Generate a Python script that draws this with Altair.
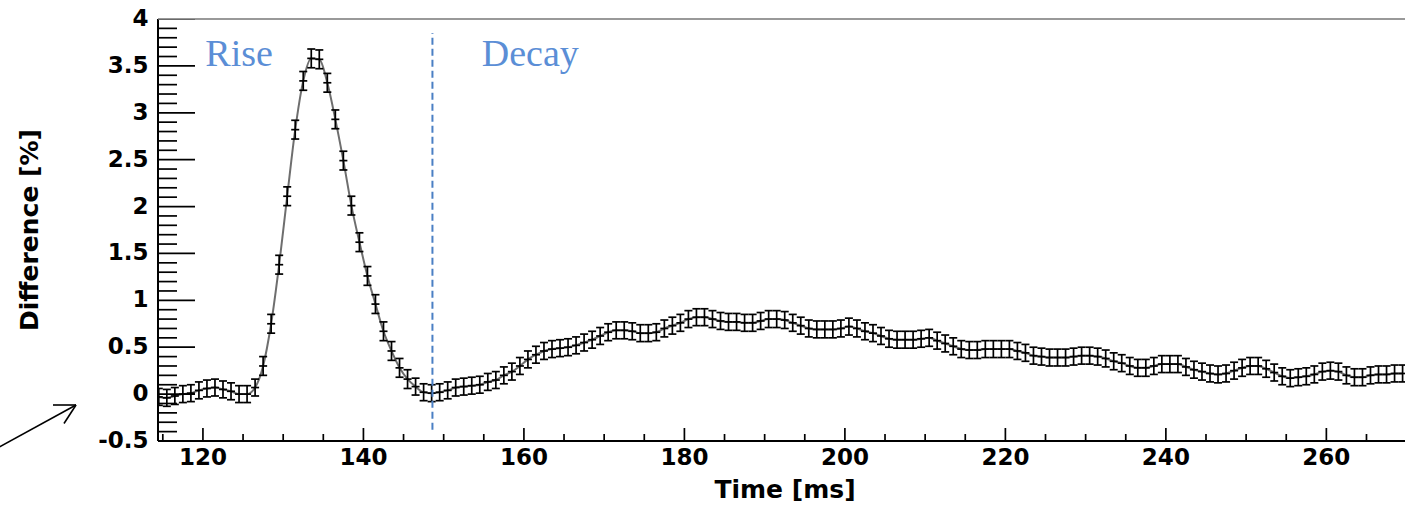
import altair as alt
import pandas as pd

# ---- data (1 ms bins, centres at n + 0.5) ----
T_FIRST = 114.5
DIFF = [
    -0.03, -0.04, -0.02, 0.00, 0.01, 0.04, 0.06, 0.07, 0.05, 0.03,   # 114.5-123.5
    0.00, 0.00, 0.07, 0.30, 0.75, 1.38, 2.11, 2.82, 3.34, 3.58,      # 124.5-133.5
    3.57, 3.32, 2.93, 2.49, 2.01, 1.62, 1.26, 0.96, 0.67, 0.46,      # 134.5-143.5
    0.28, 0.16, 0.08, 0.02, 0.01, 0.02, 0.04, 0.07, 0.08, 0.09,      # 144.5-153.5
    0.10, 0.13, 0.15, 0.20, 0.24, 0.30, 0.37, 0.42, 0.46, 0.48,      # 154.5-163.5
    0.49, 0.50, 0.52, 0.55, 0.58, 0.62, 0.66, 0.68, 0.68, 0.67,      # 164.5-173.5
    0.65, 0.65, 0.66, 0.70, 0.73, 0.76, 0.80, 0.82, 0.82, 0.80,      # 174.5-183.5
    0.78, 0.77, 0.77, 0.76, 0.76, 0.78, 0.80, 0.80, 0.79, 0.76,      # 184.5-193.5
    0.73, 0.70, 0.69, 0.69, 0.69, 0.70, 0.72, 0.70, 0.67, 0.65,      # 194.5-203.5
    0.62, 0.59, 0.58, 0.58, 0.58, 0.59, 0.60, 0.57, 0.54, 0.51,      # 204.5-213.5
    0.48, 0.47, 0.47, 0.48, 0.48, 0.48, 0.48, 0.46, 0.44, 0.41,      # 214.5-223.5
    0.40, 0.39, 0.39, 0.39, 0.40, 0.41, 0.41, 0.40, 0.38, 0.35,      # 224.5-233.5
    0.33, 0.30, 0.28, 0.28, 0.30, 0.32, 0.32, 0.32, 0.29, 0.26,      # 234.5-243.5
    0.24, 0.22, 0.21, 0.22, 0.25, 0.28, 0.30, 0.30, 0.27, 0.23,      # 244.5-253.5
    0.19, 0.17, 0.18, 0.19, 0.21, 0.24, 0.25, 0.24, 0.20, 0.18,      # 254.5-263.5
    0.18, 0.20, 0.21, 0.21, 0.22, 0.22,                              # 264.5-269.5
]
ERR = [
    0.09, 0.09, 0.09, 0.09, 0.09, 0.09, 0.09, 0.09, 0.09, 0.09,
    0.09, 0.09, 0.09, 0.10, 0.10, 0.10, 0.10, 0.10, 0.10, 0.10,
    0.10, 0.10, 0.10, 0.10, 0.10, 0.10, 0.10, 0.10, 0.10, 0.10,
    0.10, 0.10, 0.09, 0.09, 0.09, 0.09, 0.09, 0.09, 0.09, 0.09,
    0.09, 0.09, 0.09, 0.09, 0.09, 0.09, 0.09, 0.09, 0.09, 0.09,
    0.09, 0.09, 0.09, 0.09, 0.09, 0.09, 0.09, 0.09, 0.09, 0.09,
    0.09, 0.09, 0.09, 0.09, 0.09, 0.09, 0.09, 0.09, 0.09, 0.09,
    0.09, 0.09, 0.09, 0.09, 0.09, 0.09, 0.09, 0.09, 0.09, 0.09,
    0.09, 0.09, 0.09, 0.09, 0.09, 0.09, 0.09, 0.09, 0.09, 0.09,
    0.09, 0.09, 0.09, 0.09, 0.09, 0.09, 0.09, 0.09, 0.09, 0.09,
    0.09, 0.09, 0.09, 0.09, 0.09, 0.09, 0.09, 0.09, 0.09, 0.09,
    0.09, 0.09, 0.09, 0.09, 0.09, 0.09, 0.09, 0.09, 0.09, 0.09,
    0.09, 0.09, 0.09, 0.09, 0.09, 0.09, 0.09, 0.09, 0.09, 0.09,
    0.09, 0.09, 0.09, 0.09, 0.09, 0.09, 0.09, 0.09, 0.09, 0.09,
    0.09, 0.09, 0.09, 0.09, 0.09, 0.09, 0.09, 0.09, 0.09, 0.09,
    0.09, 0.09, 0.09, 0.09, 0.09, 0.09,
]
TIME = [T_FIRST + i for i in range(len(DIFF))]
BIN_HALF = 0.5

X_DOMAIN = [114.4, 269.8]
Y_DOMAIN = [-0.5, 4.0]
X_TICKS = [120, 140, 160, 180, 200, 220, 240, 260]
X_TICK_LABELS = ["120", "140", "160", "180", "200", "220", "240", "260"]
X_MINOR = [115, 125, 130, 135, 145, 150, 155, 165, 170, 175, 185, 190, 195,
           205, 210, 215, 225, 230, 235, 245, 250, 255, 265]
Y_TICKS = [-0.5, 0, 0.5, 1, 1.5, 2, 2.5, 3, 3.5, 4]
Y_TICK_LABELS = ["-0.5", "0", "0.5", "1", "1.5", "2", "2.5", "3", "3.5", "4"]
Y_MINOR = [-0.4, -0.3, -0.2, -0.1, 0.1, 0.2, 0.3, 0.4, 0.6, 0.7, 0.8, 0.9,
           1.1, 1.2, 1.3, 1.4, 1.6, 1.7, 1.8, 1.9, 2.1, 2.2, 2.3, 2.4,
           2.6, 2.7, 2.8, 2.9, 3.1, 3.2, 3.3, 3.4, 3.6, 3.7, 3.8, 3.9]
X_TITLE = "Time [ms]"
Y_TITLE = "Difference [%]"

SPLIT_T = 148.6
SPLIT_Y = [-0.38, 3.85]
LABELS = ["Rise", "Decay"]
LABEL_T = [120.3, 154.75]
LABEL_V = [3.50, 3.50]

W, H = 1247, 422
BLUE_TEXT = "#5b8ed6"
BLUE_LINE = "#4a7fc4"
AX_FONT = "DejaVu Sans"

# inward tick lengths (pixels) converted to data units
PX_PER_MS = W / (X_DOMAIN[1] - X_DOMAIN[0])
PX_PER_UNIT = H / (Y_DOMAIN[1] - Y_DOMAIN[0])
YT_MAJ = 37 / PX_PER_MS
YT_MIN = 19 / PX_PER_MS
XT_MAJ = 13 / PX_PER_UNIT
XT_MIN = 7 / PX_PER_UNIT

pts = pd.DataFrame({"t": TIME, "v": DIFF, "e": ERR})
lo = pts["v"] - pts["e"]
hi = pts["v"] + pts["e"]
tl = pts["t"] - BIN_HALF
tr = pts["t"] + BIN_HALF

# all black line segments (error bars, caps and inward axis ticks) in one table
segments = pd.concat([
    pd.DataFrame({"x1": pts["t"], "x2": pts["t"], "y1": lo, "y2": hi}),
    pd.DataFrame({"x1": tl, "x2": tr, "y1": pts["v"], "y2": pts["v"]}),
    pd.DataFrame({"x1": tl, "x2": tr, "y1": lo, "y2": lo}),
    pd.DataFrame({"x1": tl, "x2": tr, "y1": hi, "y2": hi}),
    pd.DataFrame({"x1": X_DOMAIN[0], "x2": X_DOMAIN[0] + YT_MAJ, "y1": Y_TICKS, "y2": Y_TICKS}),
    pd.DataFrame({"x1": X_DOMAIN[0], "x2": X_DOMAIN[0] + YT_MIN, "y1": Y_MINOR, "y2": Y_MINOR}),
    pd.DataFrame({"x1": X_TICKS, "x2": X_TICKS, "y1": Y_DOMAIN[0], "y2": Y_DOMAIN[0] + XT_MAJ}),
    pd.DataFrame({"x1": X_MINOR, "x2": X_MINOR, "y1": Y_DOMAIN[0], "y2": Y_DOMAIN[0] + XT_MIN}),
], ignore_index=True).astype(float)

xs = alt.Scale(domain=X_DOMAIN, nice=False, zero=False)
ys = alt.Scale(domain=Y_DOMAIN, nice=False, zero=False)


def X(field):
    return alt.X(field, scale=xs, axis=None)


def Y(field):
    return alt.Y(field, scale=ys, axis=None)


smooth = alt.Chart(pts).mark_line(interpolate="monotone", color="#555555",
                                  strokeWidth=2, opacity=0.85, clip=True).encode(
    x=X("t:Q"), y=Y("v:Q"))
segs = alt.Chart(segments).mark_rule(color="black", strokeWidth=1.7, clip=True).encode(
    x=X("x1:Q"), x2="x2:Q", y=Y("y1:Q"), y2="y2:Q")

# ---- frame ----
one = pd.DataFrame({"a": [0]})
left_line = alt.Chart(one).mark_rule(color="black", strokeWidth=2).encode(
    x=alt.value(0), y=alt.value(0), y2=alt.value(H))
bottom_line = alt.Chart(one).mark_rule(color="black", strokeWidth=2).encode(
    x=alt.value(0), x2=alt.value(W), y=alt.value(H))
top_line = alt.Chart(one).mark_rule(color="#777777", strokeWidth=1.5).encode(
    x=alt.value(0), x2=alt.value(W), y=alt.value(0))

# ---- tick labels and titles ----
ylab = alt.Chart(pd.DataFrame({"ty": Y_TICKS, "s": Y_TICK_LABELS})).mark_text(
    font=AX_FONT, fontWeight="bold", fontSize=23, color="black",
    align="right", baseline="middle").encode(
    y=Y("ty:Q"), x=alt.value(-9.5), text="s:N")
xlab = alt.Chart(pd.DataFrame({"tx": X_TICKS, "s": X_TICK_LABELS})).mark_text(
    font=AX_FONT, fontWeight="bold", fontSize=23, color="black",
    align="center", baseline="top").encode(
    x=X("tx:Q"), y=alt.value(H + 6), text="s:N")
xtitle = alt.Chart(pd.DataFrame({"s": [X_TITLE]})).mark_text(
    font=AX_FONT, fontWeight="bold", fontSize=25, color="black",
    align="center", baseline="alphabetic").encode(
    x=alt.value(627), y=alt.value(H + 57), text="s:N")
ytitle = alt.Chart(pd.DataFrame({"s": [Y_TITLE]})).mark_text(
    font=AX_FONT, fontWeight="bold", fontSize=25, color="black",
    align="center", baseline="middle", angle=270).encode(
    x=alt.value(-128), y=alt.value(H / 2), text="s:N")

split = alt.Chart(pd.DataFrame({"t": [SPLIT_T], "y1": [SPLIT_Y[0]], "y2": [SPLIT_Y[1]]})).mark_rule(
    color=BLUE_LINE, strokeWidth=2, strokeDash=[7, 4]).encode(
    x=X("t:Q"), y=Y("y1:Q"), y2="y2:Q")

labels = alt.Chart(pd.DataFrame({"t": LABEL_T, "v": LABEL_V, "s": LABELS})).mark_text(
    font="Liberation Serif", fontSize=38, color=BLUE_TEXT, align="left",
    baseline="alphabetic").encode(
    x=X("t:Q"), y=Y("v:Q"), text="s:N")

# arrow annotation outside the frame (bottom-left)
arrow_shaft = alt.Chart(one).mark_rule(color="black", strokeWidth=1.6, clip=False).encode(
    x=alt.value(-160), y=alt.value(428.8), x2=alt.value(-82), y2=alt.value(386))
arrow_b1 = alt.Chart(one).mark_rule(color="black", strokeWidth=1.6, clip=False).encode(
    x=alt.value(-105), y=alt.value(386), x2=alt.value(-82), y2=alt.value(386))
arrow_b2 = alt.Chart(one).mark_rule(color="black", strokeWidth=1.6, clip=False).encode(
    x=alt.value(-94), y=alt.value(404.5), x2=alt.value(-82), y2=alt.value(386))

chart = alt.layer(
    smooth, segs, split, labels,
    left_line, bottom_line, top_line,
    ylab, xlab, xtitle, ytitle,
    arrow_shaft, arrow_b1, arrow_b2,
).properties(
    width=W, height=H,
    padding={"left": 158, "top": 19, "right": 0, "bottom": 66},
    autosize=alt.AutoSizeParams(type="none"),
    background="white",
).configure_view(stroke=None)

chart.save("out.html", embed_options={"renderer": "svg", "actions": False})
